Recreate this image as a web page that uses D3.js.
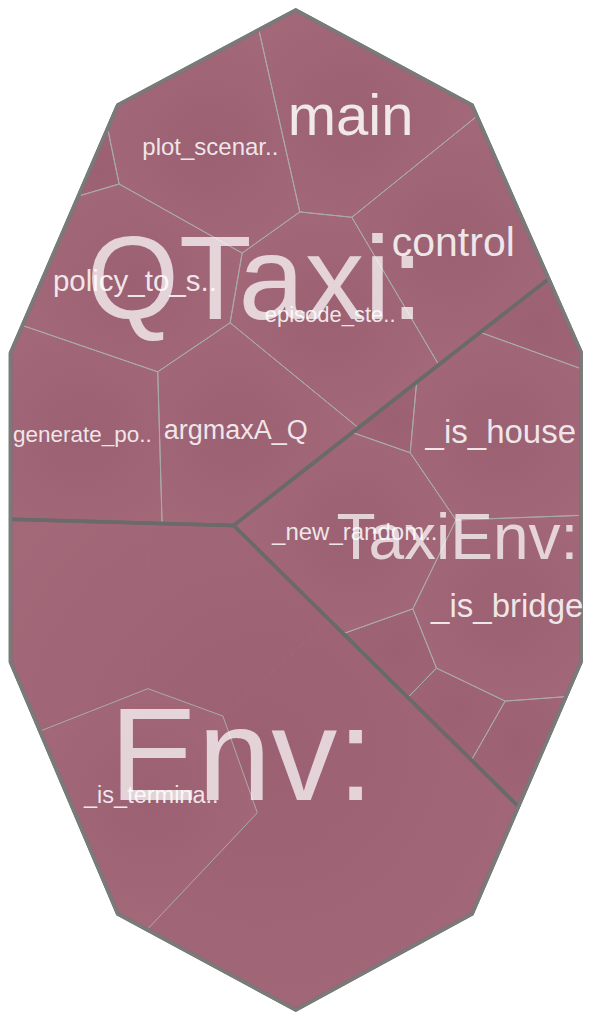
<!DOCTYPE html>
<html>
<head>
<meta charset="utf-8">
<script src="https://cdn.jsdelivr.net/npm/d3@7"></script>
<style>
  html, body { margin: 0; padding: 0; background: #ffffff; }
  svg { display: block; }
</style>
</head>
<body>
<svg id="chart" width="592" height="1020"></svg>
<script>
// ---------------- DATA ----------------
const groupNames  = ["QTaxi:", "TaxiEnv:", "Env:"];
// leaf -> group index
const leafGroup   = [0, 0, 0, 0, 0, 0, 0, 0,
                     1, 1, 1, 1, 1, 1, 1, 1,
                     2, 2];
// displayed (truncated) labels; "" = label not shown in the cell
const leafLabels  = ["main", "control", "plot_scenar..", "", "policy_to_s..", "episode_ste..", "generate_po..", "argmaxA_Q",
                     "", "_is_house", "", "_new_random..", "_is_bridge", "", "", "",
                     "_is_termina..", ""];
// cell sizes
const leafValues  = [25.5, 25.6, 26.4, 1.2, 26.5, 26.6, 25.8, 25.6,
                     4.2, 26.2, 2.1, 26.3, 25.7, 4.2, 4.4, 5.4,
                     31.4, 127.3];

// ---------------- LAYOUT HINTS (normalised 0..1 frame units) ----------------
const frameShape = [[0.5, 0], [0.809, 0.095], [1, 0.342], [1, 0.652], [0.809, 0.904],
                    [0.5, 1], [0.188, 0.904], [0, 0.652], [0, 0.343], [0.188, 0.095]];
const groupSeeds = [[0.425, 0.268], [0.781, 0.530], [0.404, 0.747]];
// initial site(s) of every leaf (the last Env leaf is an un-subdivided remainder with several anchors)
const leafSeeds = [[[0.599, 0.107]], [[0.776, 0.235]], [[0.351, 0.137]], [[0.162, 0.160]], [[0.218, 0.271]],
                   [[0.560, 0.306]], [[0.125, 0.424]], [[0.394, 0.420]],
                   [[0.949, 0.327]], [[0.858, 0.425]], [[0.670, 0.413]], [[0.601, 0.522]], [[0.869, 0.598]],
                   [[0.681, 0.643]], [[0.777, 0.699]], [[0.884, 0.735]],
                   [[0.248, 0.786]],
                   [[0.118, 0.598], [0.366, 0.599], [0.558, 0.722], [0.475, 0.908]]];

// ---------------- STYLE ----------------
const groupFont = {"QTaxi:": 119, "TaxiEnv:": 64, "Env:": 132};
const leafFont = {"main": 58, "control": 41, "plot_scenar..": 24, "policy_to_s..": 29.5,
                  "episode_ste..": 22, "generate_po..": 22.5, "argmaxA_Q": 27, "_is_house": 33,
                  "_new_random..": 24, "_is_bridge": 33, "_is_termina..": 23.5};
const FONT = "'Liberation Sans', Arial, Helvetica, sans-serif";

const x = d3.scaleLinear().domain([0, 1]).range([10.5, 581]);
const y = d3.scaleLinear().domain([0, 1]).range([10, 1010]);

// ---------------- POWER DIAGRAM (weighted Voronoi) ----------------
function clipHalf(poly, a, b, c) {
  const out = [], n = poly.length;
  for (let i = 0; i < n; i++) {
    const P = poly[i], Q = poly[(i + 1) % n];
    const fp = a * P[0] + b * P[1] - c, fq = a * Q[0] + b * Q[1] - c;
    if (fp <= 0) out.push(P);
    if ((fp < 0 && fq > 0) || (fp > 0 && fq < 0)) {
      const t = fp / (fp - fq);
      out.push([P[0] + t * (Q[0] - P[0]), P[1] + t * (Q[1] - P[1])]);
    }
  }
  return out;
}
function powerCells(sites, clip) {
  return sites.map((s, i) => {
    let poly = clip.map(p => p.slice());
    for (let j = 0; j < sites.length && poly.length; j++) {
      if (j === i) continue;
      const t = sites[j];
      const a = 2 * (t.x - s.x), b = 2 * (t.y - s.y);
      if (a === 0 && b === 0) continue;
      const c = (t.x * t.x + t.y * t.y - t.w) - (s.x * s.x + s.y * s.y - s.w);
      poly = clipHalf(poly, a, b, c);
    }
    return poly.length >= 3 ? poly : [];
  });
}
// Voronoi-treemap iteration: sites to centroids + weights adapted to the target areas
function layoutLevel(clip, items, iters) {
  const total = Math.abs(d3.polygonArea(clip));
  const vsum = d3.sum(items, d => d.value);
  const its = items.map(d => ({target: total * d.value / vsum, w: 0, pts: d.seeds.map(p => ({x: p[0], y: p[1]}))}));
  const sites = [];
  its.forEach((it, k) => it.pts.forEach(p => { p.item = k; sites.push(p); }));
  const sync = () => sites.forEach(s => { s.w = its[s.item].w; });
  const pw = (p, s) => (p[0] - s.x) ** 2 + (p[1] - s.y) ** 2 - s.w;
  let cells;
  for (let iter = 0; iter < iters; iter++) {
    sync();
    cells = powerCells(sites, clip);
    if (iter < iters * 0.6) {
      sites.forEach((s, i) => {
        if (its[s.item].pts.length === 1 && cells[i].length) {
          const cc = d3.polygonCentroid(cells[i]); s.x = cc[0]; s.y = cc[1];
        }
      });
      cells = powerCells(sites, clip);
    }
    const A = its.map(() => 0), D = its.map(() => 0);
    sites.forEach((s, i) => {
      const c = cells[i];
      if (!c.length) return;
      A[s.item] += Math.abs(d3.polygonArea(c));
      for (let k = 0; k < c.length; k++) {
        const p = c[k], q = c[(k + 1) % c.length];
        const len = Math.hypot(q[0] - p[0], q[1] - p[1]);
        if (len < 1e-9) continue;
        const m = [(p[0] + q[0]) / 2, (p[1] + q[1]) / 2];
        const pi = pw(m, s);
        sites.forEach((t, j) => {
          if (j === i || t.item === s.item) return;
          if (Math.abs(pw(m, t) - pi) < 1e-3) D[s.item] += len / (2 * Math.hypot(t.x - s.x, t.y - s.y));
        });
      }
    });
    const dw = its.map((it, k) => A[k] === 0 ? null : (D[k] > 0 ? 0.5 * (it.target - A[k]) / D[k] : 0));
    its.forEach((it, k) => {
      if (dw[k] === null) {
        const s = it.pts[0];
        it.w = d3.max(sites, t => t.item === k ? -Infinity : t.w - ((t.x - s.x) ** 2 + (t.y - s.y) ** 2)) + 1;
      } else it.w += dw[k];
    });
  }
  sync();
  cells = powerCells(sites, clip);
  return its.map((it, k) => sites.map((s, i) => s.item === k ? cells[i] : null).filter(c => c && c.length));
}
function unionCentroid(polys) {
  let a = 0, cx = 0, cy = 0;
  polys.forEach(p => {
    const ar = Math.abs(d3.polygonArea(p)), c = d3.polygonCentroid(p);
    a += ar; cx += c[0] * ar; cy += c[1] * ar;
  });
  return [cx / a, cy / a];
}

// ---------------- BUILD HIERARCHY ----------------
const leaves = leafValues.map((v, i) => ({
  label: leafLabels[i], value: v, group: leafGroup[i],
  seeds: leafSeeds[i].map(p => [x(p[0]), y(p[1])])
}));
const groups = groupNames.map((name, g) => {
  const kids = leaves.filter(l => l.group === g);
  return {name, value: d3.sum(kids, k => k.value), kids, seeds: [[x(groupSeeds[g][0]), y(groupSeeds[g][1])]]};
});
const frame = frameShape.map(p => [x(p[0]), y(p[1])]);
const groupCells = layoutLevel(frame, groups, 300);
groups.forEach((g, i) => {
  g.cell = groupCells[i][0];
  const kc = layoutLevel(g.cell, g.kids, 300);
  g.kids.forEach((k, j) => { k.cells = kc[j]; k.center = unionCentroid(kc[j]); });
});

// ---------------- DRAW ----------------
const svg = d3.select("#chart");
const defs = svg.append("defs");
const line = d3.line().curve(d3.curveLinearClosed);

leaves.forEach((l, i) => {
  const c = l.center;
  const r = Math.max(120, d3.max(l.cells.flat(), p => Math.hypot(p[0] - c[0], p[1] - c[1])));
  const gr = defs.append("radialGradient").attr("id", "g" + i)
    .attr("gradientUnits", "userSpaceOnUse")
    .attr("cx", c[0]).attr("cy", c[1]).attr("r", r);
  gr.append("stop").attr("offset", "0%").attr("stop-color", "rgb(155,96,114)");
  gr.append("stop").attr("offset", "100%").attr("stop-color", "rgb(163,105,121)");
});

// fills (pieces of one leaf share its gradient; seams hidden with a same-colour stroke)
const pieces = leaves.flatMap((l, i) => l.cells.map(c => ({cell: c, i})));
svg.append("g").selectAll("path").data(pieces).join("path")
  .attr("d", d => line(d.cell))
  .attr("fill", d => `url(#g${d.i})`)
  .attr("stroke", d => `url(#g${d.i})`)
  .attr("stroke-width", 1);

// leaf outlines
svg.append("g").selectAll("path").data(leaves.filter(l => l.cells.length === 1)).join("path")
  .attr("d", d => line(d.cells[0]))
  .attr("fill", "none")
  .attr("stroke", "#aaaaaa")
  .attr("stroke-width", 1)
  .attr("stroke-linejoin", "round");

svg.append("g").selectAll("path").data(groups).join("path")
  .attr("d", d => line(d.cell))
  .attr("fill", "none")
  .attr("stroke", "#6a6a6a")
  .attr("stroke-width", 3.5)
  .attr("stroke-linejoin", "round");

svg.append("path")
  .attr("d", line(frame))
  .attr("fill", "none")
  .attr("stroke", "#7a7a7a")
  .attr("stroke-width", 3.5)
  .attr("stroke-linejoin", "round");

svg.append("g").selectAll("text").data(groups).join("text")
  .attr("x", d => d3.polygonCentroid(d.cell)[0])
  .attr("y", d => d3.polygonCentroid(d.cell)[1])
  .attr("dy", "0.33em")
  .attr("text-anchor", "middle")
  .attr("font-family", FONT)
  .attr("font-size", d => groupFont[d.name])
  .attr("fill", "#ffffff")
  .attr("fill-opacity", 0.72)
  .text(d => d.name);

svg.append("g").selectAll("text").data(leaves.filter(l => l.label)).join("text")
  .attr("x", d => d.center[0])
  .attr("y", d => d.center[1])
  .attr("dy", "0.33em")
  .attr("text-anchor", "middle")
  .attr("font-family", FONT)
  .attr("font-size", d => leafFont[d.label])
  .attr("fill", "#ffffff")
  .attr("fill-opacity", 0.85)
  .text(d => d.label);
</script>
</body>
</html>
